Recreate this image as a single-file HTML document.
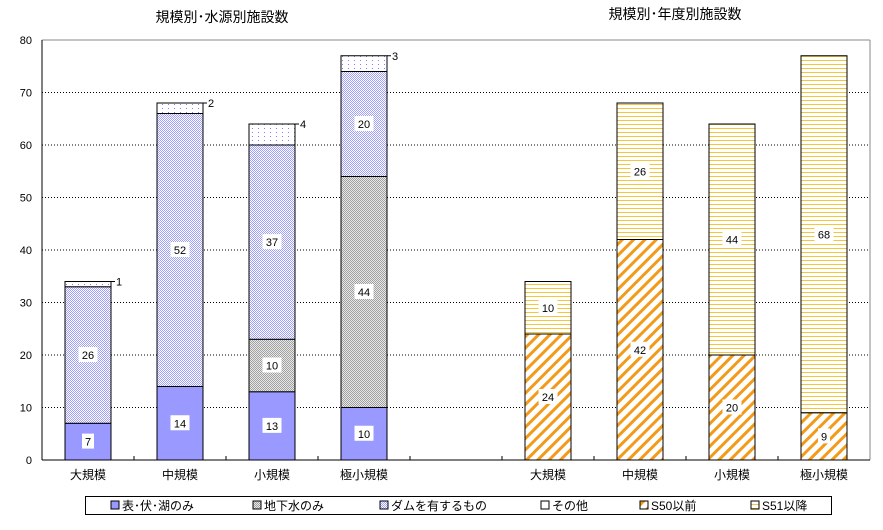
<!DOCTYPE html>
<html><head><meta charset="utf-8"><style>
body{margin:0;background:#fff;position:relative}
svg text{font-family:"Liberation Sans","Noto Sans CJK JP",sans-serif;}
</style></head><body>
<svg id="c" width="883" height="525" xmlns="http://www.w3.org/2000/svg">
<defs>
<pattern id="pGround" width="2" height="2" patternUnits="userSpaceOnUse"><rect width="2" height="2" fill="#e8e8e8"/><rect width="1" height="1" fill="#a0a0a0"/><rect x="1" y="1" width="1" height="1" fill="#a0a0a0"/></pattern>
<pattern id="pDam" width="2" height="2" patternUnits="userSpaceOnUse"><rect width="2" height="2" fill="#fff"/><rect width="1" height="1" fill="#a0a0ff"/><rect x="1" y="1" width="1" height="1" fill="#a0a0ff"/></pattern>
<pattern id="pOther" width="6" height="4" patternUnits="userSpaceOnUse"><rect width="6" height="4" fill="#fff"/><rect width="1" height="1" fill="#8080ff"/></pattern>
<pattern id="pS50" width="8" height="8" patternUnits="userSpaceOnUse" patternTransform="rotate(45)"><rect width="8" height="8" fill="#fff"/><rect width="3" height="8" fill="#f29a1a"/></pattern>
<pattern id="pS51" width="4" height="4" patternUnits="userSpaceOnUse"><rect width="4" height="4" fill="#fff"/><rect width="4" height="1" fill="#f5c53a"/></pattern>
</defs>
<g id="g"></g>
</svg>
<script>
const catsLeft=["大規模","中規模","小規模","極小規模"];
const catsRight=["大規模","中規模","小規模","極小規模"];
const surface=[7,14,13,10];
const ground=[0,0,10,44];
const dam=[26,52,37,20];
const other=[1,2,4,3];
const s50=[24,42,20,9];
const s51=[10,26,44,68];
const yTicks=[0,10,20,30,40,50,60,70,80];
const NS="http://www.w3.org/2000/svg";
const g=document.getElementById('g');
const X0=42,X1=870,Y0=460,Y1=40,slot=92,bw=46;
const y=v=>Y0-(v/80)*(Y0-Y1);
const cx=i=>X0+slot/2+slot*i;
function mk(t,a,p){const e=document.createElementNS(NS,t);for(const k in a)e.setAttribute(k,a[k]);(p||g).appendChild(e);return e;}
yTicks.forEach(v=>{
 if(v>0&&v<80){const l=mk('line',{x1:X0,x2:X1,y1:y(v),y2:y(v),stroke:'#000','stroke-dasharray':'1,2'});
 
 }
 const t=mk('text',{x:X0-10,y:y(v)+4,'font-size':11,'text-anchor':'end'});t.textContent=v;
 
 
});
mk('line',{x1:X0,x2:X1,y1:Y1,y2:Y1,stroke:'#888'});
mk('line',{x1:X1,x2:X1,y1:Y1,y2:Y0,stroke:'#888'});
mk('line',{x1:X0,x2:X0,y1:Y1,y2:Y0,stroke:'#000'});
mk('line',{x1:X0,x2:X1,y1:Y0,y2:Y0,stroke:'#000'});
for(let i=1;i<9;i++){mk('line',{x1:X0+slot*i,x2:X0+slot*i,y1:Y0,y2:Y0-4,stroke:'#000'});}
function label(x,yy,txt,bg){
 const w=String(txt).length*7+5;
 if(bg){const r=mk('rect',{x:x-w/2,y:yy-8,width:w,height:15,fill:'#fff'});}
 const t=mk('text',{x:x,y:yy+4,'font-size':11,'text-anchor':'middle'});t.textContent=txt;
 
 
}
function stack(i,pos,series,fills,names,outside){
 let base=0;
 const c=cx(pos);
 series.forEach((s,k)=>{
  const v=s[i];if(!v)return;
  const r=mk('rect',{x:c-bw/2,y:y(base+v),width:bw,height:y(base)-y(base+v),fill:fills[k],stroke:'#000','stroke-width':1});
  
  
  if(outside&&k===series.length-1){
   mk('line',{x1:c+bw/2,x2:c+bw/2+4,y1:y(base+v),y2:y(base+v),stroke:'#000'});
   const t=mk('text',{x:c+bw/2+5,y:y(base+v)+4,'font-size':11});t.textContent=v;
   
   
  } else label(c,(y(base)+y(base+v))/2,v,true);
  base+=v;
 });
}
catsLeft.forEach((c,i)=>{
 stack(i,i,[surface,ground,dam,other],['#9999ff','url(#pGround)','url(#pDam)','url(#pOther)'],['bar-surface','bar-ground','bar-dam','bar-other'],true);
 const t=mk('text',{x:cx(i),y:479,'font-size':12,'text-anchor':'middle'});t.textContent=c;
 
 
});
catsRight.forEach((c,i)=>{
 stack(i,i+5,[s50,s51],['url(#pS50)','url(#pS51)'],['bar-s50','bar-s51'],false);
 const t=mk('text',{x:cx(i+5),y:479,'font-size':12,'text-anchor':'middle'});t.textContent=c;
 
 
});
</script>
<svg style="position:absolute;left:0;top:0" width="883" height="525">
<text x="222" y="22" font-size="14" text-anchor="middle">規模別･水源別施設数</text>
<text x="675" y="19" font-size="14" text-anchor="middle">規模別･年度別施設数</text>
<g font-size="12">
<rect x="85.5" y="496.5" width="746" height="18" fill="none" stroke="#000"/>
<g><rect x="111" y="501" width="8" height="8" fill="#9999ff" stroke="#000"/><text x="122" y="510">表･伏･湖のみ</text></g>
<g><rect x="253" y="501" width="8" height="8" fill="url(#pGround)" stroke="#000"/><text x="264" y="510">地下水のみ</text></g>
<g><rect x="380" y="501" width="8" height="8" fill="url(#pDam)" stroke="#000"/><text x="391" y="510">ダムを有するもの</text></g>
<g><rect x="541" y="501" width="8" height="8" fill="#fff" stroke="#000"/><text x="552" y="510">その他</text></g>
<g><rect x="640" y="501" width="8" height="8" fill="url(#pS50)" stroke="#000"/><text x="651" y="510">S50以前</text></g>
<g><rect x="751" y="501" width="8" height="8" fill="url(#pS51)" stroke="#000"/><text x="762" y="510">S51以降</text></g>
</g>
</svg>
</body></html>
